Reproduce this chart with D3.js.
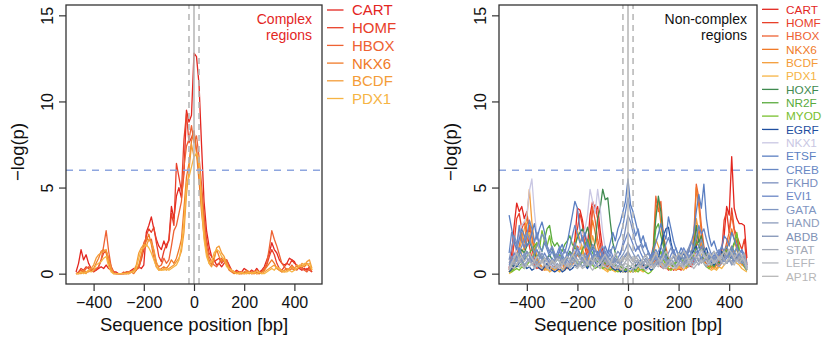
<!DOCTYPE html>
<html>
<head>
<meta charset="utf-8">
<script src="https://cdn.jsdelivr.net/npm/d3@7"></script>
<style>
  body { margin: 0; background: #fff; }
  svg { display: block; font-family: "Liberation Sans", Arial, Helvetica, sans-serif; }
</style>
</head>
<body>
<svg id="chart" width="831" height="340"></svg>
<script>
// sequence positions (bp), shared by every series
const positions = [-470,-460,-450,-440,-430,-420,-410,-400,
  -390,-380,-370,-360,-350,-340,-330,-320,-310,-300,
  -290,-280,-270,-260,-250,-240,-230,-220,-210,-200,
  -190,-180,-170,-160,-150,-140,-130,-120,-110,-100,
  -90,-80,-70,-60,-50,-40,-30,-20,-10,0,
  10,20,30,40,50,60,70,80,90,100,
  110,120,130,140,150,160,170,180,190,200,
  210,220,230,240,250,260,270,280,290,300,
  310,320,330,340,350,360,370,380,390,400,
  410,420,430,440,450,460,470];

const yTicks = [0, 5, 10, 15];
const xTicks = [-400, -200, 0, 200, 400];
const threshold = 6;
const windowLines = [-20, 0, 20];

const complexNames = ["CART", "HOMF", "HBOX", "NKX6", "BCDF", "PDX1"];
const nonComplexNames = ["CART", "HOMF", "HBOX", "NKX6", "BCDF", "PDX1", "HOXF", "NR2F", "MYOD", "EGRF",
  "NKX1", "ETSF", "CREB", "FKHD", "EVI1", "GATA", "HAND", "ABDB", "STAT", "LEFF", "AP1R"];

// complex regions
const cxCART = [0.1,0.6,1.4,0.8,1.1,0.6,0.3,0.2,
  0.2,0.3,0.4,0.3,0.5,0.3,0.2,0.1,0.1,0.0,
  0.0,0.0,0.1,0.1,0.2,0.3,0.2,0.4,0.3,0.5,
  2.4,2.8,3.3,2.6,2.0,1.6,1.4,1.9,1.5,2.0,
  3.9,3.2,4.5,5.0,4.4,5.8,9.5,8.8,9.2,12.8,
  12.6,11.0,7.5,4.2,2.5,1.6,1.0,0.8,0.5,0.6,
  0.4,0.6,0.8,0.5,0.2,0.1,0.2,0.1,0.1,0.3,
  0.2,0.1,0.2,0.1,0.3,0.1,0.2,0.4,0.8,1.2,
  1.8,1.4,1.2,0.8,0.6,0.5,0.6,0.9,0.8,0.7,
  0.4,0.3,0.2,0.3,0.2,0.4,0.1];
const cxHOMF = [0.0,0.1,0.3,0.2,0.4,0.3,0.2,0.1,
  0.2,0.4,0.8,1.2,1.3,0.9,0.4,0.1,0.0,0.0,
  0.0,0.0,0.0,0.1,0.1,0.2,0.3,0.4,0.8,1.4,
  2.2,2.6,2.4,2.7,1.8,1.0,0.7,1.3,1.7,1.9,
  3.5,2.8,6.4,5.6,4.8,7.8,9.3,7.6,7.9,8.3,
  7.2,6.0,4.5,3.3,2.0,1.2,1.0,0.7,0.8,0.9,
  0.6,0.8,0.5,0.3,0.2,0.1,0.1,0.0,0.1,0.0,
  0.1,0.0,0.2,0.1,0.0,0.1,0.1,0.2,0.5,1.0,
  1.4,1.1,0.6,0.3,0.2,0.4,0.6,0.5,0.8,0.6,
  0.5,0.3,0.4,0.2,0.3,0.2,0.1];
const cxHBOX = [0.0,0.1,0.2,0.1,0.3,0.4,0.3,0.2,
  0.3,0.4,0.8,1.6,2.5,1.3,0.4,0.1,0.0,0.0,
  0.0,0.1,0.0,0.0,0.1,0.2,0.4,0.3,0.9,1.8,
  2.1,1.9,2.0,1.3,0.6,0.4,0.5,0.9,0.6,0.8,
  1.6,2.5,2.8,3.5,4.2,6.2,7.4,7.8,8.6,7.6,
  8.0,6.8,5.2,3.4,1.6,1.0,0.7,0.5,0.4,0.6,
  0.9,0.7,0.8,0.4,0.2,0.1,0.1,0.0,0.0,0.1,
  0.0,0.1,0.0,0.0,0.1,0.0,0.1,0.3,0.6,1.5,
  2.5,2.0,1.6,1.1,0.6,0.4,0.2,0.3,0.5,0.3,
  0.2,0.4,0.3,0.2,0.1,0.3,0.2];
const cxNKX6 = [0.0,0.0,0.1,0.2,0.1,0.1,0.2,0.3,
  0.6,0.9,1.3,1.4,1.2,0.6,0.2,0.0,0.0,0.0,
  0.0,0.0,0.1,0.0,0.1,0.0,0.2,0.5,1.1,1.6,
  1.9,2.3,1.7,0.9,0.4,0.2,0.3,0.4,0.3,0.5,
  0.8,0.6,0.9,1.4,2.0,3.8,5.6,6.4,7.7,8.2,
  7.0,5.4,3.6,2.2,1.2,0.8,0.5,0.9,1.4,1.0,
  0.7,0.9,0.5,0.2,0.1,0.0,0.1,0.0,0.0,0.1,
  0.2,0.1,0.0,0.1,0.0,0.0,0.1,0.2,0.4,0.6,
  0.8,0.6,0.3,0.2,0.1,0.2,0.3,0.2,0.3,0.2,
  0.3,0.4,0.5,0.4,0.6,0.4,0.2];
const cxBCDF = [0.0,0.0,0.0,0.1,0.0,0.2,0.3,0.5,
  0.9,1.1,1.2,1.3,1.4,0.8,0.3,0.0,0.0,0.0,
  0.0,0.0,0.0,0.1,0.1,0.2,0.5,1.2,1.5,1.7,
  1.6,2.0,1.8,1.4,0.7,0.3,0.2,0.3,0.2,0.3,
  0.4,0.5,0.7,0.9,1.3,2.4,4.6,6.0,7.5,6.8,
  6.9,6.2,4.4,2.6,1.4,0.6,0.4,0.8,1.5,1.6,
  1.2,1.0,0.6,0.3,0.2,0.1,0.0,0.1,0.0,0.0,
  0.1,0.0,0.1,0.0,0.2,0.1,0.0,0.1,0.2,0.3,
  0.4,0.5,0.3,0.2,0.1,0.1,0.2,0.3,0.4,0.3,
  0.5,0.4,0.6,0.5,0.7,0.8,0.3];
const cxPDX1 = [0.0,0.0,0.1,0.0,0.1,0.2,0.1,0.2,
  0.5,0.6,0.7,0.9,1.0,0.4,0.1,0.0,0.0,0.0,
  0.0,0.0,0.0,0.0,0.1,0.1,0.3,0.9,1.4,1.5,
  1.7,1.5,1.2,0.8,0.4,0.2,0.2,0.2,0.3,0.2,
  0.3,0.4,0.5,0.8,1.6,3.0,5.2,5.6,6.2,6.8,
  7.0,6.6,4.0,2.0,1.0,0.6,0.7,1.2,1.4,1.3,
  1.0,0.8,0.4,0.3,0.2,0.1,0.0,0.0,0.1,0.0,
  0.0,0.1,0.0,0.1,0.0,0.1,0.0,0.0,0.1,0.2,
  0.3,0.2,0.4,0.3,0.2,0.1,0.1,0.2,0.1,0.2,
  0.3,0.5,0.4,0.6,0.5,0.6,0.2];

// non-complex regions
const ncCART = [0.3,1.2,2.8,4.1,3.6,3.9,3.2,3.6,
  2.4,1.5,0.8,0.5,0.3,0.4,0.2,0.3,0.5,0.3,
  0.2,0.4,0.3,0.5,0.6,0.4,0.8,1.2,2.0,3.8,
  3.7,3.1,2.2,1.6,3.4,4.2,3.6,3.9,2.5,1.4,
  0.8,0.5,0.4,0.6,0.3,0.2,0.4,0.3,0.2,0.3,
  0.2,0.3,0.5,0.4,0.6,0.3,0.5,0.4,0.6,0.8,
  1.2,0.9,0.6,0.4,0.3,0.5,0.4,0.2,0.3,0.5,
  0.4,0.3,0.6,0.5,0.4,0.8,1.6,2.0,1.4,0.8,
  0.6,0.4,0.5,0.8,0.7,1.0,1.4,2.2,3.9,3.4,
  6.8,3.8,3.2,2.9,2.9,2.8,0.9];
const ncHOMF = [0.2,0.6,1.8,3.2,3.5,2.6,3.0,2.4,
  1.6,0.9,0.5,0.3,0.4,0.2,0.3,0.4,0.2,0.3,
  0.4,0.2,0.3,0.2,0.5,0.3,0.6,1.0,1.8,2.6,
  3.5,2.8,1.5,0.9,1.6,3.8,4.0,3.2,1.8,0.9,
  0.6,0.4,0.3,0.2,0.4,0.3,0.2,0.1,0.3,0.2,
  0.3,0.2,0.4,0.3,0.2,0.4,0.3,0.5,0.4,0.6,
  0.8,0.6,0.4,0.3,0.4,0.2,0.3,0.4,0.2,0.3,
  0.2,0.4,0.3,0.5,0.6,0.9,1.8,2.6,1.7,0.9,
  0.5,0.3,0.4,0.6,0.5,0.8,1.2,3.1,3.6,2.4,
  3.8,2.6,2.2,1.8,1.4,2.0,0.5];
const ncHBOX = [0.1,0.4,0.9,1.6,2.5,2.0,1.4,1.9,
  2.8,2.1,1.2,0.8,0.5,0.3,0.5,0.3,0.2,0.4,
  0.3,0.5,0.4,0.6,0.3,0.5,0.7,0.9,1.2,1.6,
  1.4,2.2,1.8,1.2,2.4,3.9,3.1,2.0,1.4,0.8,
  0.5,0.3,0.4,0.2,0.3,0.4,0.2,0.3,0.2,0.1,
  0.2,0.3,0.2,0.4,0.3,0.5,0.4,0.6,0.9,1.6,
  4.5,3.6,4.2,2.2,1.5,0.9,0.6,0.4,0.3,0.5,
  0.4,0.6,0.8,0.5,1.0,2.2,5.2,4.4,2.8,1.6,
  1.0,0.7,0.5,0.4,0.6,0.5,0.8,1.2,1.8,2.4,
  3.4,2.5,1.8,1.2,0.8,0.6,0.3];
const ncNKX6 = [0.1,0.2,0.5,1.1,1.6,2.4,1.8,2.9,
  3.1,2.2,1.4,0.9,0.6,0.4,0.3,0.5,0.3,0.2,
  0.4,0.3,0.2,0.5,0.4,0.3,0.6,0.5,0.8,1.1,
  0.9,1.3,1.0,0.7,1.8,3.1,2.4,1.6,1.0,0.6,
  0.4,0.2,0.3,0.5,0.3,0.2,0.4,0.2,0.1,0.2,
  0.1,0.3,0.2,0.3,0.2,0.4,0.3,0.5,0.7,1.2,
  3.8,4.2,2.9,1.8,1.0,0.6,0.4,0.3,0.5,0.4,
  0.3,0.5,0.6,0.4,0.8,1.8,5.0,3.9,2.4,1.3,
  0.8,0.5,0.4,0.3,0.5,0.4,0.6,0.9,1.4,2.0,
  2.6,2.0,1.4,0.9,0.6,0.4,0.2];
const ncBCDF = [0.1,0.3,0.6,1.0,1.4,1.9,2.6,3.2,
  4.9,3.0,1.8,1.0,0.6,0.4,0.3,0.2,0.4,0.3,
  0.2,0.4,0.3,0.2,0.5,0.4,0.6,1.0,1.6,2.4,
  2.0,1.5,0.9,0.6,1.2,2.2,1.6,1.0,0.6,0.4,
  0.3,0.2,0.4,0.3,0.2,0.3,0.2,0.4,0.2,0.3,
  0.2,0.1,0.3,0.2,0.4,0.2,0.3,0.4,0.6,0.9,
  2.0,1.6,1.2,0.8,0.6,0.4,0.5,0.3,0.4,0.3,
  0.5,0.4,0.3,0.6,0.9,1.6,3.2,2.4,1.8,1.0,
  0.7,0.5,0.3,0.4,0.3,0.5,0.6,0.8,1.0,1.3,
  1.6,1.2,0.9,0.7,0.5,0.4,0.2];
const ncPDX1 = [0.0,0.1,0.3,0.5,0.8,1.2,1.6,2.1,
  2.4,1.6,1.1,0.7,0.4,0.3,0.2,0.3,0.1,0.2,
  0.3,0.2,0.1,0.3,0.2,0.4,0.5,0.9,1.4,2.5,
  1.8,1.2,0.8,0.5,0.7,1.0,0.8,0.5,0.4,0.3,
  0.2,0.1,0.3,0.2,0.1,0.2,0.1,0.2,0.1,0.2,
  0.1,0.2,0.1,0.3,0.2,0.1,0.2,0.3,0.4,0.6,
  1.2,1.0,0.7,0.5,0.4,0.3,0.2,0.3,0.2,0.4,
  0.3,0.2,0.4,0.5,0.7,1.2,2.6,2.0,1.2,0.7,
  0.5,0.3,0.2,0.3,0.2,0.4,0.3,0.5,0.7,0.9,
  1.1,0.8,0.6,0.5,0.3,0.2,0.1];
const ncHOXF = [0.2,0.4,0.6,0.9,1.1,1.4,1.2,1.6,
  1.9,1.5,1.2,0.9,1.3,1.0,0.7,0.9,1.1,0.8,
  0.6,0.9,0.7,0.5,0.8,1.0,1.3,1.1,1.6,2.1,
  2.4,2.6,2.2,2.7,2.0,1.4,1.8,3.2,3.8,4.9,
  4.3,4.4,3.0,1.8,1.2,0.8,0.6,0.4,0.3,0.5,
  0.4,0.3,0.5,0.4,0.6,0.5,0.4,0.6,0.8,1.4,
  3.2,4.5,3.6,2.0,1.2,0.8,0.6,0.5,0.7,0.6,
  0.5,0.8,0.6,0.9,1.2,1.6,2.8,1.8,2.2,1.4,
  1.0,0.8,0.6,0.5,0.7,0.6,0.9,1.2,1.6,1.1,
  1.4,1.8,2.3,1.2,0.8,0.5,0.3];
const ncNR2F = [0.1,0.2,0.3,0.5,0.4,0.6,0.8,1.0,
  1.2,1.4,1.6,1.8,1.6,1.3,2.0,2.6,2.8,1.9,
  1.6,1.8,1.5,1.3,1.7,1.9,2.2,1.7,1.5,1.2,
  1.0,1.4,1.7,2.0,1.5,1.2,0.9,0.7,0.6,0.8,
  0.6,0.5,0.7,0.4,0.5,0.3,0.4,0.3,0.2,0.3,
  0.2,0.3,0.2,0.4,0.3,0.2,0.3,0.5,0.8,1.3,
  2.6,2.9,2.2,1.6,1.0,0.7,0.5,0.4,0.6,0.9,
  1.2,0.8,0.6,0.8,1.0,1.3,1.9,1.6,1.3,0.9,
  0.7,0.5,0.6,0.4,0.7,0.9,1.1,1.4,1.3,1.0,
  0.9,1.2,1.5,1.0,0.7,0.5,0.2];
const ncMYOD = [0.1,0.1,0.2,0.3,0.2,0.4,0.3,0.5,
  0.7,0.9,1.2,1.8,1.4,2.5,1.9,1.6,2.2,1.4,
  1.0,0.8,1.1,0.9,0.7,0.9,1.2,1.0,0.8,0.6,
  0.5,0.7,0.6,0.4,0.6,0.5,0.3,0.4,0.5,0.3,
  0.4,0.3,0.2,0.3,0.2,0.1,0.2,0.1,0.2,0.1,
  0.2,0.1,0.2,0.1,0.3,0.2,0.1,0.0,0.1,0.3,
  0.6,0.9,1.3,0.8,0.5,0.3,0.2,0.4,0.8,1.2,
  0.9,0.6,0.4,0.6,0.8,1.1,1.5,1.2,0.9,0.6,
  0.4,0.3,0.5,0.7,0.9,1.2,1.0,0.8,0.6,0.9,
  1.3,1.7,2.4,1.4,0.8,0.4,0.2];
const ncEGRF = [0.1,0.3,0.5,0.4,0.6,0.8,0.5,0.3,
  0.4,0.2,0.3,0.5,0.3,0.2,0.4,0.6,0.3,0.2,
  0.1,0.2,0.3,0.1,0.2,0.4,0.2,0.3,0.5,0.4,
  0.6,0.8,0.5,0.3,0.6,0.9,0.7,0.4,0.5,0.8,
  1.0,0.7,0.5,0.3,0.2,0.3,0.1,0.2,0.1,0.2,
  0.3,0.2,0.4,0.6,0.8,0.5,0.3,0.4,0.2,0.3,
  0.5,0.9,1.6,2.2,2.6,2.7,1.8,1.2,0.8,0.6,
  0.9,1.2,0.8,0.6,1.0,1.4,1.6,1.1,0.8,1.2,
  1.5,1.0,0.7,0.5,0.8,1.1,1.3,0.9,0.6,0.8,
  1.1,0.7,0.9,1.2,0.8,0.5,0.3];
const ncNKX1 = [0.2,0.5,1.0,1.6,2.2,2.8,3.0,3.4,
  4.8,5.5,3.6,2.2,1.4,0.9,0.6,0.8,0.5,0.4,
  0.6,0.4,0.3,0.5,0.7,0.5,0.8,1.1,1.4,1.2,
  1.6,2.0,2.6,3.4,4.9,4.2,3.5,4.9,3.8,2.4,
  1.5,0.9,0.6,0.4,0.3,0.5,0.3,0.2,0.4,0.3,
  0.2,0.4,0.3,0.5,0.3,0.4,0.2,0.3,0.5,0.4,
  0.6,0.8,0.5,0.3,0.4,0.6,0.4,0.3,0.5,0.7,
  0.5,0.3,0.6,0.8,0.6,0.9,1.1,0.8,1.3,1.0,
  0.7,0.5,0.8,0.6,0.9,1.2,0.9,0.7,1.0,1.4,
  1.1,0.8,1.2,0.9,1.4,0.8,0.4];
const ncETSF = [3.4,2.6,1.8,1.4,2.0,2.6,2.2,1.6,
  1.8,2.4,2.9,2.0,2.6,3.0,2.4,1.6,1.2,1.5,
  1.1,0.9,1.4,1.7,1.2,1.8,2.6,3.4,4.2,3.8,
  2.6,1.9,2.4,1.6,1.2,1.5,1.0,1.3,0.9,1.2,
  1.6,1.2,1.8,2.4,1.9,2.6,3.0,3.6,4.2,5.5,
  4.0,3.6,3.0,2.4,1.8,2.2,1.6,1.3,1.0,1.4,
  1.8,2.3,2.9,2.4,2.0,3.3,2.6,1.9,1.4,1.1,
  1.5,1.2,0.9,1.3,1.8,2.4,3.6,4.6,3.8,5.2,
  3.2,2.2,1.6,1.9,1.4,1.1,1.5,2.2,2.0,1.6,
  2.4,2.0,1.6,1.2,1.4,1.1,0.6];
const ncCREB = [1.2,2.4,2.0,1.6,2.8,1.9,1.5,2.2,
  3.1,2.6,1.8,2.4,1.6,1.3,1.8,1.4,1.0,1.3,
  0.9,1.2,1.6,1.1,0.8,1.2,1.6,2.2,2.8,2.3,
  1.8,2.1,1.5,1.8,1.3,0.9,1.4,1.1,0.8,1.0,
  1.3,0.9,1.2,1.6,1.4,1.9,2.2,2.8,3.6,4.4,
  3.6,2.8,2.2,2.6,1.9,1.5,1.8,1.2,0.9,1.1,
  1.4,1.1,0.9,1.3,1.7,2.1,1.6,1.2,1.5,0.9,
  1.2,0.8,1.1,1.4,1.2,1.6,2.1,2.8,2.3,2.6,
  2.0,1.5,1.1,1.3,0.9,1.2,1.6,1.3,1.0,1.2,
  1.6,1.3,1.0,1.3,0.9,1.1,0.5];
const ncFKHD = [0.8,1.5,2.2,1.8,1.2,1.6,2.0,2.4,
  2.0,1.6,1.2,1.6,1.9,2.3,2.0,1.6,1.3,1.6,
  1.2,0.9,0.7,1.0,1.4,1.1,0.8,1.2,1.8,1.4,
  1.1,0.8,1.2,0.9,1.3,1.7,1.4,1.0,1.3,1.6,
  1.2,0.9,1.1,0.8,1.0,1.3,1.1,1.8,2.6,3.4,
  3.0,2.4,1.8,1.4,1.7,1.3,1.0,1.2,0.9,0.7,
  1.0,1.3,1.6,1.2,0.9,1.2,1.5,1.1,0.8,1.1,
  0.9,1.3,1.0,1.5,1.9,1.4,1.2,1.6,2.0,1.5,
  1.2,0.9,1.1,0.8,1.2,1.4,1.0,1.3,1.6,1.2,
  0.9,1.2,1.5,1.1,0.8,1.0,0.4];
const ncEVI1 = [0.5,0.8,1.2,0.9,1.5,1.1,0.8,1.3,
  1.0,0.7,1.1,1.4,1.0,0.8,1.2,0.9,0.6,0.9,
  0.7,1.0,1.3,0.9,0.6,0.9,1.2,0.8,1.1,1.5,
  1.2,0.9,0.6,1.0,1.3,0.9,0.7,1.1,1.4,1.0,
  0.8,1.1,1.4,1.0,0.7,0.9,1.2,1.6,2.0,2.4,
  2.1,1.7,1.3,1.6,1.2,0.9,1.1,0.8,1.0,1.2,
  0.9,0.7,1.0,1.3,0.9,0.7,1.1,1.4,1.0,0.8,
  1.1,1.5,1.2,0.9,1.2,0.8,1.0,1.3,1.6,1.2,
  0.9,1.2,0.8,1.1,0.9,1.3,1.0,0.7,0.9,1.1,
  1.4,1.0,0.8,1.1,1.3,0.9,0.4];
const ncGATA = [0.3,0.6,0.9,0.7,1.1,0.8,1.2,0.9,
  0.7,1.0,0.8,0.6,0.9,1.2,0.9,0.7,0.5,0.8,
  0.6,0.8,1.0,0.7,0.5,0.8,0.6,0.9,1.1,0.8,
  0.6,0.9,0.7,0.5,0.8,1.0,0.7,0.9,0.6,0.8,
  1.0,0.7,0.9,0.6,0.8,0.6,0.9,1.1,1.4,1.8,
  1.5,1.2,0.9,1.1,0.8,0.6,0.9,0.7,0.5,0.8,
  1.0,0.8,0.6,0.9,0.7,0.5,0.8,1.0,0.7,0.9,
  0.7,0.5,0.8,1.1,0.8,0.6,0.9,1.2,0.9,0.7,
  0.9,0.6,0.8,1.0,0.7,0.9,0.6,0.8,1.1,0.8,
  0.6,0.9,1.1,0.8,0.6,0.9,0.3];
const ncHAND = [0.4,0.7,0.5,0.9,0.6,0.8,0.5,0.7,
  0.9,0.6,0.4,0.7,0.5,0.8,0.6,0.4,0.7,0.5,
  0.3,0.6,0.4,0.7,0.9,0.6,0.4,0.6,0.8,0.5,
  0.7,0.4,0.6,0.8,0.5,0.7,0.4,0.6,0.8,0.6,
  0.4,0.7,0.5,0.8,0.6,0.4,0.6,0.9,1.1,1.3,
  1.0,0.8,0.6,0.8,0.5,0.7,0.4,0.6,0.8,0.5,
  0.7,0.5,0.8,0.6,0.4,0.7,0.9,0.6,0.4,0.6,
  0.8,0.5,0.7,0.4,0.6,0.9,0.7,0.5,0.8,0.6,
  0.4,0.7,0.5,0.8,0.6,0.4,0.7,0.9,0.6,0.8,
  0.5,0.7,0.9,0.6,0.8,0.5,0.2];
const ncABDB = [0.6,1.0,0.8,1.2,0.9,0.7,1.0,1.3,
  1.1,0.8,0.6,0.9,1.2,0.9,0.7,1.0,0.8,0.6,
  0.8,1.1,0.9,0.6,0.8,1.0,0.8,0.6,0.9,1.2,
  0.9,0.7,1.0,0.8,0.6,0.9,1.1,0.8,0.6,0.9,
  0.7,1.0,0.8,0.6,0.9,0.7,0.5,0.8,1.0,1.2,
  0.9,0.7,1.0,0.8,0.6,0.9,0.7,0.5,0.8,1.0,
  0.8,0.6,0.9,1.1,0.8,0.6,0.8,1.0,0.7,0.9,
  1.1,0.8,1.2,1.5,1.1,0.8,1.0,0.7,0.9,1.2,
  0.9,0.7,1.0,0.8,1.1,0.9,0.7,1.0,1.2,0.9,
  0.7,1.0,0.8,1.1,0.9,0.7,0.3];
const ncSTAT = [0.3,0.5,0.7,0.5,0.8,0.6,0.4,0.6,
  0.8,0.5,0.7,0.4,0.6,0.8,0.5,0.3,0.5,0.7,
  0.5,0.3,0.6,0.8,0.5,0.4,0.6,0.8,0.6,0.4,
  0.6,0.8,0.5,0.7,0.4,0.6,0.8,0.5,0.3,0.6,
  0.8,0.5,0.7,0.4,0.6,0.8,0.6,0.5,0.7,0.9,
  0.7,0.5,0.8,0.6,0.4,0.6,0.8,0.5,0.7,0.4,
  0.6,0.8,0.5,0.3,0.6,0.8,0.5,0.7,0.9,0.6,
  0.4,0.7,0.9,0.6,0.8,0.5,0.7,0.9,0.6,0.8,
  1.0,0.7,0.5,0.8,0.6,0.9,1.1,0.8,0.6,0.9,
  1.2,0.9,0.7,1.0,0.8,1.2,0.4];
const ncLEFF = [0.2,0.4,0.3,0.6,0.4,0.5,0.3,0.5,
  0.4,0.6,0.3,0.5,0.4,0.3,0.6,0.4,0.2,0.4,
  0.3,0.5,0.4,0.2,0.4,0.6,0.3,0.5,0.4,0.3,
  0.5,0.3,0.4,0.6,0.4,0.2,0.4,0.5,0.3,0.5,
  0.4,0.3,0.5,0.6,0.4,0.3,0.5,0.4,0.6,0.5,
  0.4,0.6,0.3,0.5,0.4,0.3,0.5,0.6,0.4,0.3,
  0.5,0.4,0.6,0.4,0.3,0.5,0.7,0.5,0.3,0.5,
  0.6,0.4,0.5,0.7,0.5,0.3,0.5,0.6,0.8,0.6,
  0.5,0.7,0.9,0.6,0.8,1.0,0.7,0.5,0.7,0.9,
  0.7,0.5,0.8,0.6,0.9,0.7,0.3];
const ncAP1R = [0.3,0.6,0.9,1.2,0.8,1.0,0.7,0.9,
  1.2,0.9,0.7,1.0,0.8,0.6,0.9,0.7,0.5,0.8,
  0.6,0.9,0.7,0.5,0.8,1.0,0.8,1.1,0.9,0.7,
  0.9,1.1,0.8,0.6,0.9,0.7,1.0,0.8,0.6,0.9,
  1.1,0.8,0.6,0.9,1.2,0.9,0.7,1.0,0.8,1.1,
  0.9,0.7,1.0,0.8,0.6,0.9,1.1,0.8,0.6,0.9,
  1.2,0.9,0.7,1.0,1.3,1.0,0.8,1.1,0.9,1.2,
  1.0,1.3,1.1,0.8,1.0,1.2,0.9,1.1,1.4,1.1,
  0.9,1.2,1.0,1.3,1.1,0.8,1.0,1.3,1.1,1.4,
  1.2,0.9,1.1,1.3,1.0,0.8,0.3];

const complexSeries = [cxCART, cxHOMF, cxHBOX, cxNKX6, cxBCDF, cxPDX1];
const nonComplexSeries = [ncCART, ncHOMF, ncHBOX, ncNKX6, ncBCDF, ncPDX1, ncHOXF, ncNR2F, ncMYOD, ncEGRF,
  ncNKX1, ncETSF, ncCREB, ncFKHD, ncEVI1, ncGATA, ncHAND, ncABDB, ncSTAT, ncLEFF, ncAP1R];

const familyColor = {
  CART: "#e3261f", HOMF: "#e8402a", HBOX: "#ee6233", NKX6: "#f07a28", BCDF: "#f49c38", PDX1: "#f6b444",
  HOXF: "#3f8a4f", NR2F: "#5aab3e", MYOD: "#78c02e", EGRF: "#1f4f9f", NKX1: "#c9c7e3",
  ETSF: "#5b7fc2", CREB: "#6888c4", FKHD: "#7a8fbe", EVI1: "#6a86c6", GATA: "#7f96c2",
  HAND: "#8d9cbc", ABDB: "#8092b6", STAT: "#a3a9b6", LEFF: "#b3b6bc", AP1R: "#b7b7b7"
};

const svg = d3.select("#chart");
const font = "\"Liberation Sans\", Arial, Helvetica, sans-serif";

function drawPanel(opts) {
  const x = d3.scaleLinear().domain([-510, 510]).range([opts.left, opts.right]);
  const y = d3.scaleLinear().domain([-0.6, 15.6]).range([284, 5]);
  const g = svg.append("g");

  // data lines
  const line = d3.line()
    .x((d, i) => x(positions[i]))
    .y(d => y(d));

  g.selectAll("path.series")
    .data(opts.series)
    .enter()
    .append("path")
    .attr("class", "series")
    .attr("d", line)
    .attr("fill", "none")
    .attr("stroke", (d, i) => familyColor[opts.names[i]])
    .attr("stroke-width", 1.3)
    .attr("stroke-linejoin", "round");

  // window around the centre
  g.selectAll("line.win")
    .data(windowLines)
    .enter()
    .append("line")
    .attr("x1", d => x(d)).attr("x2", d => x(d))
    .attr("y1", y.range()[0]).attr("y2", y.range()[1])
    .attr("stroke", "#b4b4b4")
    .attr("stroke-width", 1.5)
    .attr("stroke-dasharray", d => d === 0 ? null : "6,5");

  // significance threshold
  g.append("line")
    .attr("x1", opts.left).attr("x2", opts.right)
    .attr("y1", y(threshold)).attr("y2", y(threshold))
    .attr("stroke", "#8ea6df")
    .attr("stroke-width", 1.5)
    .attr("stroke-dasharray", "7,6");

  // box
  g.append("rect")
    .attr("x", opts.left).attr("y", 5)
    .attr("width", opts.right - opts.left).attr("height", 279)
    .attr("fill", "none")
    .attr("stroke", "#333")
    .attr("stroke-width", 1.3);

  // x axis
  const xAxis = g.append("g")
    .attr("transform", `translate(0,284)`)
    .call(d3.axisBottom(x).tickValues(xTicks).tickSize(7).tickPadding(6));
  xAxis.select(".domain").remove();
  xAxis.selectAll(".tick line").attr("stroke", "#333").attr("stroke-width", 1.2);
  xAxis.selectAll(".tick text")
    .attr("fill", "#111")
    .style("font-size", "16px")
    .style("font-family", font);

  // y axis, labels rotated like base R
  const yAxis = g.append("g")
    .attr("transform", `translate(${opts.left},0)`)
    .call(d3.axisLeft(y).tickValues(yTicks).tickSize(7));
  yAxis.select(".domain").remove();
  yAxis.selectAll(".tick line").attr("stroke", "#333").attr("stroke-width", 1.2);
  yAxis.selectAll(".tick text")
    .attr("transform", "rotate(-90)")
    .attr("x", 0)
    .attr("y", -13)
    .attr("dy", 0)
    .attr("text-anchor", "middle")
    .attr("fill", "#111")
    .style("font-size", "16px")
    .style("font-family", font);

  // axis titles
  g.append("text")
    .attr("x", x(0))
    .attr("y", 331)
    .attr("text-anchor", "middle")
    .attr("fill", "#111")
    .style("font-size", "18.5px")
    .text("Sequence position [bp]");

  g.append("text")
    .attr("transform", `translate(${opts.left - 42},152) rotate(-90)`)
    .attr("text-anchor", "middle")
    .attr("fill", "#111")
    .style("font-size", "18.5px")
    .text("\u2212log(p)");

  // label inside the box
  g.selectAll("text.region")
    .data(opts.label)
    .enter()
    .append("text")
    .attr("x", opts.right - 10)
    .attr("y", (d, i) => 24 + i * 16)
    .attr("text-anchor", "end")
    .attr("fill", opts.labelColor)
    .style("font-size", "14px")
    .text(d => d);

  // legend
  const leg = g.selectAll("g.legend")
    .data(opts.names)
    .enter()
    .append("g")
    .attr("transform", (d, i) => `translate(${opts.right + 5},${opts.legTop + i * opts.legStep})`);

  leg.append("line")
    .attr("x1", 0).attr("x2", 16.5)
    .attr("stroke", d => familyColor[d])
    .attr("stroke-width", 1.3);

  leg.append("text")
    .attr("x", opts.legText)
    .attr("dy", "0.36em")
    .attr("fill", d => familyColor[d])
    .style("font-size", opts.legFont)
    .text(d => d);
}

drawPanel({
  left: 66, right: 322,
  series: complexSeries, names: complexNames,
  label: ["Complex", "regions"], labelColor: "#e3261f",
  legTop: 10, legStep: 17.7, legFont: "15px", legText: 25
});

drawPanel({
  left: 499, right: 757,
  series: nonComplexSeries, names: nonComplexNames,
  label: ["Non-complex", "regions"], labelColor: "#111",
  legTop: 9.3, legStep: 13.35, legFont: "11.8px", legText: 24
});
</script>
</body>
</html>
